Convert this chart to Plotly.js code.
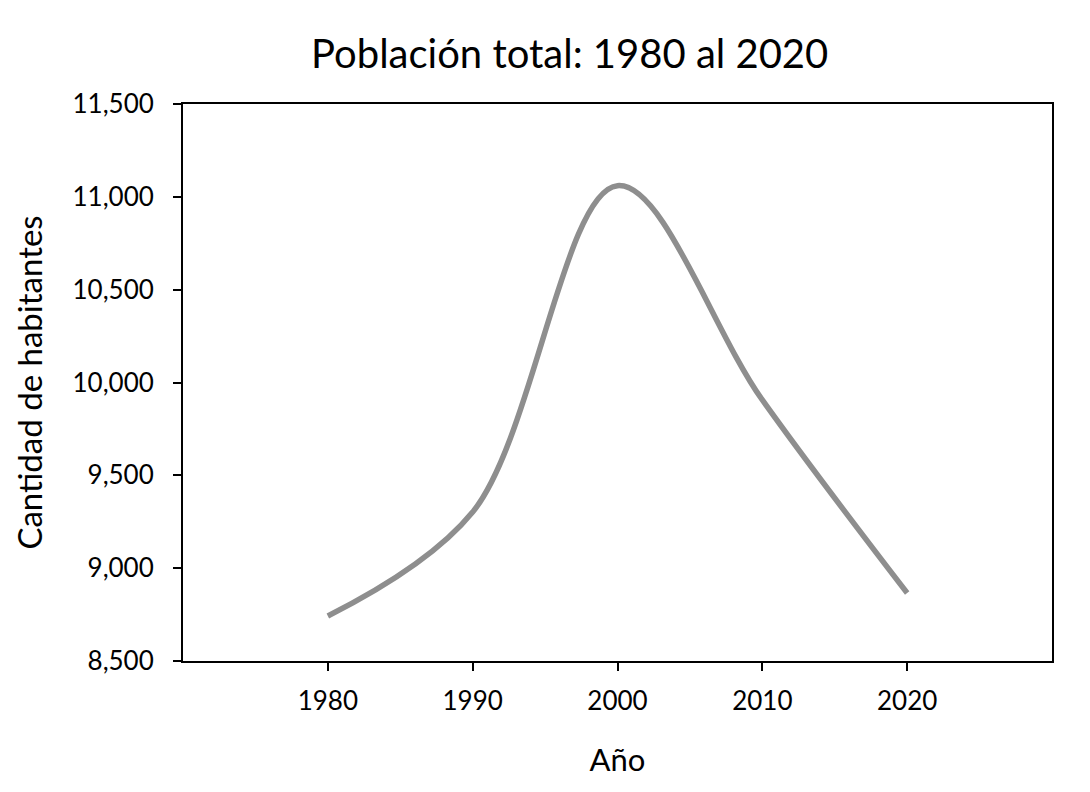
<!DOCTYPE html>
<html>
<head>
<meta charset="utf-8">
<script src="https://cdn.plot.ly/plotly-3.0.1.min.js"></script>
<style>html,body{margin:0;padding:0;background:#fff;}#chart{width:1090px;height:792px;}</style>
</head>
<body>
<div id="chart"></div>
<script>
const years = [1980, 1990, 2000, 2010, 2020];
const population = [8742, 9302, 11060, 9906, 8866];
const xTicks = [1980, 1990, 2000, 2010, 2020];
const yTicks = [8500, 9000, 9500, 10000, 10500, 11000, 11500];
const titleText = 'Población total: 1980 al 2020';
const xTitle = 'Año';
const yTitle = 'Cantidad de habitantes';

const FONT = 'Lato, "Open Sans", sans-serif';

Plotly.newPlot('chart', [{
  x: years,
  y: population,
  type: 'scatter',
  mode: 'lines',
  line: {shape: 'spline', smoothing: 1, color: '#8e8e8e', width: 5.5},
  hoverinfo: 'skip'
}], {
  width: 1090, height: 792,
  paper_bgcolor: '#fff', plot_bgcolor: '#fff',
  margin: {l: 183, r: 38, t: 104, b: 131},
  showlegend: false,
  font: {family: FONT, color: '#000'},
  title: {text: titleText, font: {size: 40, family: FONT, color: '#000'},
          x: 0.445, xref: 'paper', xanchor: 'center', y: 0.932, yref: 'container', yanchor: 'middle'},
  xaxis: {
    range: [1970, 2030], tickvals: xTicks, ticktext: xTicks.map(String),
    showgrid: false, zeroline: false, showline: true, linecolor: '#000', linewidth: 2, mirror: true,
    ticks: 'outside', ticklen: 8, tickwidth: 2, tickcolor: '#000',
    tickfont: {size: 26, family: FONT, color: '#000'},
    ticklabelstandoff: 8,
    title: {text: xTitle, font: {size: 31, family: FONT, color: '#000'}, standoff: 34}
  },
  yaxis: {
    range: [8500, 11500], tickvals: yTicks, tickformat: ',d',
    showgrid: false, zeroline: false, showline: true, linecolor: '#000', linewidth: 2, mirror: true,
    ticks: 'outside', ticklen: 8, tickwidth: 2, tickcolor: '#000',
    tickfont: {size: 26, family: FONT, color: '#000'},
    ticklabelstandoff: 14,
    title: {text: yTitle, font: {size: 33, family: FONT, color: '#000'}, standoff: 20}
  }
}, {staticPlot: true});
</script>
</body>
</html>
